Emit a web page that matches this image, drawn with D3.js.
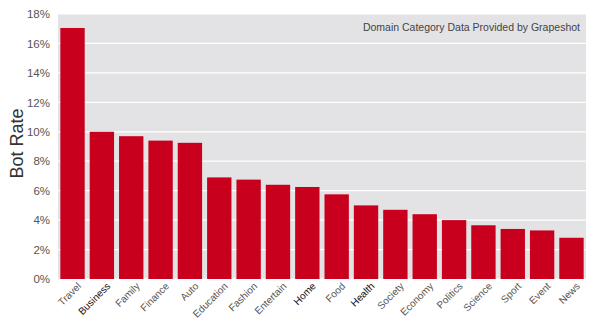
<!DOCTYPE html>
<html>
<head>
<meta charset="utf-8">
<script src="https://cdn.jsdelivr.net/npm/d3@7"></script>
<style>
  body { margin: 0; background: #fff; }
  svg { font-family: "Liberation Sans", Arial, sans-serif; }
</style>
</head>
<body>
<svg width="595" height="323"></svg>
<script>
var categories = ["Travel", "Business", "Family", "Finance", "Auto", "Education", "Fashion", "Entertain", "Home", "Food", "Health", "Society", "Economy", "Politics", "Science", "Sport", "Event", "News"];
var botRate = [17.05, 10.0, 9.7, 9.4, 9.25, 6.9, 6.75, 6.4, 6.25, 5.75, 5.0, 4.7, 4.4, 4.0, 3.65, 3.4, 3.3, 2.8];
var darkLabels = ["Business", "Home", "Health"];
var yTicks = [0, 2, 4, 6, 8, 10, 12, 14, 16, 18];

var svg = d3.select("svg");
var margin = {left: 58, right: 9, top: 14, bottom: 44};
var width = 595 - margin.left - margin.right,
    height = 323 - margin.top - margin.bottom;

var g = svg.append("g").attr("transform", "translate(" + margin.left + "," + margin.top + ")");

var x = d3.scaleBand().domain(categories).range([0, width]).paddingInner(0.17).paddingOuter(0.08);
var y = d3.scaleLinear().domain([0, 18]).range([height, 0]);

// plot background
g.append("rect")
    .attr("width", width)
    .attr("height", height)
    .attr("fill", "#e3e3e5");

// gridlines
g.selectAll(".grid")
    .data(yTicks)
    .enter().append("line")
    .attr("x1", 0)
    .attr("x2", width)
    .attr("y1", function (d) { return y(d); })
    .attr("y2", function (d) { return y(d); })
    .attr("stroke", "#fff")
    .attr("stroke-width", 1.2);

// bars
g.selectAll(".bar")
    .data(botRate)
    .enter().append("rect")
    .attr("x", function (d, i) { return x(categories[i]); })
    .attr("y", function (d) { return y(d); })
    .attr("width", x.bandwidth())
    .attr("height", function (d) { return height - y(d); })
    .attr("fill", "#c8001e");

// y axis
var yAxis = g.append("g")
    .call(d3.axisLeft(y).tickValues(yTicks).tickFormat(function (d) { return d + "%"; }).tickSize(0).tickPadding(8));
yAxis.select(".domain").remove();
yAxis.selectAll("text").attr("fill", "#555").style("font-size", "11.5px");

// x axis
var xAxis = g.append("g")
    .attr("transform", "translate(0," + height + ")")
    .call(d3.axisBottom(x).tickSize(0).tickPadding(5));
xAxis.select(".domain").remove();
xAxis.selectAll("text")
    .attr("fill", function (d) { return darkLabels.indexOf(d) >= 0 ? "#111" : "#555"; })
    .style("font-size", "10px")
    .style("text-anchor", "end")
    .attr("dy", "0.7em")
    .attr("dx", "0.1em")
    .attr("transform", "rotate(-45)");

// axis title
svg.append("text")
    .attr("transform", "translate(23," + (margin.top + height / 2 - 3) + ") rotate(-90)")
    .attr("text-anchor", "middle")
    .attr("fill", "#333")
    .style("font-size", "18px")
    .text("Bot Rate");

// source note
g.append("text")
    .attr("x", width - 6)
    .attr("y", 17)
    .attr("text-anchor", "end")
    .attr("fill", "#444")
    .style("font-size", "10.5px")
    .text("Domain Category Data Provided by Grapeshot");
</script>
</body>
</html>
